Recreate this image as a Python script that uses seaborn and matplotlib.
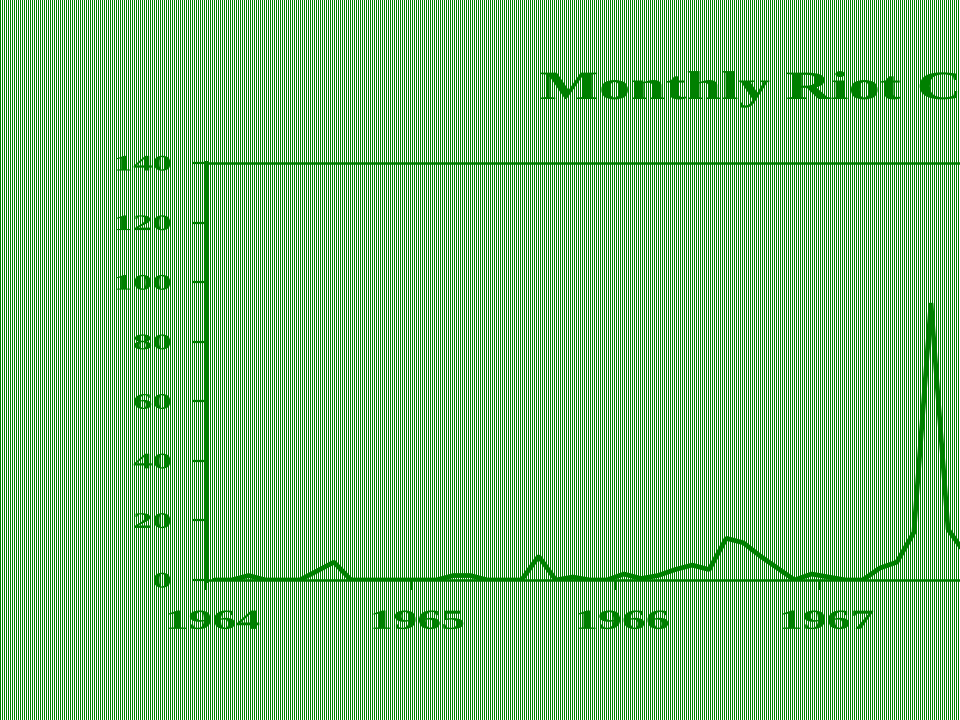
import numpy as np
import seaborn as sns
import matplotlib.pyplot as plt
from matplotlib import patheffects
from matplotlib.transforms import Affine2D

# Monthly riot counts, Jan 1964 onwards
riots_1964 = [0, 0, 1.5, 0, 0, 0, 3, 6, 0, 0, 0, 0]
riots_1965 = [0, 0, 1.5, 1.5, 0, 0, 0, 8, 0, 1, 0, 0]
riots_1966 = [2, 0.5, 1.5, 3.5, 5, 3.5, 14, 12.5, 8, 4, 0, 2]
riots_1967 = [1, 0, 0, 4, 6, 16, 93, 17, 9]
years = [1964, 1965, 1966, 1967]
yticks = [0, 20, 40, 60, 80, 100, 120, 140]
title = 'Monthly Riot Counts'

green = '#008000'


class Stretch(patheffects.AbstractPathEffect):
    # widen the glyphs horizontally, like the old wide plotter font
    def __init__(self, sx=1.6, anchor='center', dx=0):
        super().__init__()
        self.sx = sx
        self.anchor = anchor
        self.dx = dx

    def draw_path(self, renderer, gc, tpath, affine, rgbFace=None):
        ext = tpath.get_extents()
        x0 = {'left': ext.x0, 'center': (ext.x0 + ext.x1) / 2, 'right': ext.x1}[self.anchor]
        t = (Affine2D().translate(-x0, 0).scale(self.sx, 1).translate(x0, 0)
             + affine + Affine2D().translate(self.dx, 0))
        renderer.draw_path(gc, tpath, t, rgbFace)


riots = riots_1964 + riots_1965 + riots_1966 + riots_1967
month = np.arange(len(riots))
x = 1964 + (month + 0.5) / 12

sns.set_style('ticks')

fig = plt.figure(figsize=(9.6, 7.2), dpi=100)

# striped background: one green column, one white column
stripes = np.full((720, 960, 3), 255, dtype=np.uint8)
stripes[:, 0::2] = [0, 128, 0]
fig.figimage(stripes, 0, 0, zorder=-5)

# axes run past the right edge, as in the cropped original
ax = fig.add_axes([206 / 960, 140 / 720, 5 * 204.7 / 960, 417 / 720])
ax.patch.set_alpha(0)

sns.lineplot(x=x, y=riots, ax=ax, color=green, linewidth=3.4,
             solid_joinstyle='bevel')

ax.set_xlim(1964, 1969)
ax.set_ylim(0, 140)
ax.set_xticks(years)
ax.set_xticklabels([str(y) for y in years])
ax.set_yticks(yticks)
ax.set_yticklabels([str(v) for v in yticks])

ax.spines['right'].set_visible(False)
ax.spines['left'].set_linewidth(3.6)
for s in ['top', 'bottom']:
    ax.spines[s].set_linewidth(1.8)
for s in ax.spines.values():
    s.set_color(green)

ax.tick_params(axis='x', direction='out', length=7.5, width=1.6, color=green,
               pad=14)
ax.tick_params(axis='y', direction='out', length=10, width=1.6, color=green,
               pad=15)

for lab in ax.get_xticklabels():
    lab.set_fontfamily('Liberation Serif')
    lab.set_fontweight('bold')
    lab.set_fontsize(20)
    lab.set_color(green)
    lab.set_path_effects([Stretch(1.72, 'center', dx=7)])
for lab in ax.get_yticklabels():
    lab.set_fontfamily('Liberation Serif')
    lab.set_fontweight('bold')
    lab.set_fontsize(16)
    lab.set_color(green)
    lab.set_path_effects([Stretch(1.75, 'right')])

ax.set_xlabel('')
ax.set_ylabel('')

fig.text(540 / 960, 1 - 99 / 720, title, ha='left', va='baseline',
         family='Liberation Serif', weight='bold', fontsize=29, color=green,
         path_effects=[Stretch(1.56, 'left')])

fig.savefig('out.png', dpi=100)
